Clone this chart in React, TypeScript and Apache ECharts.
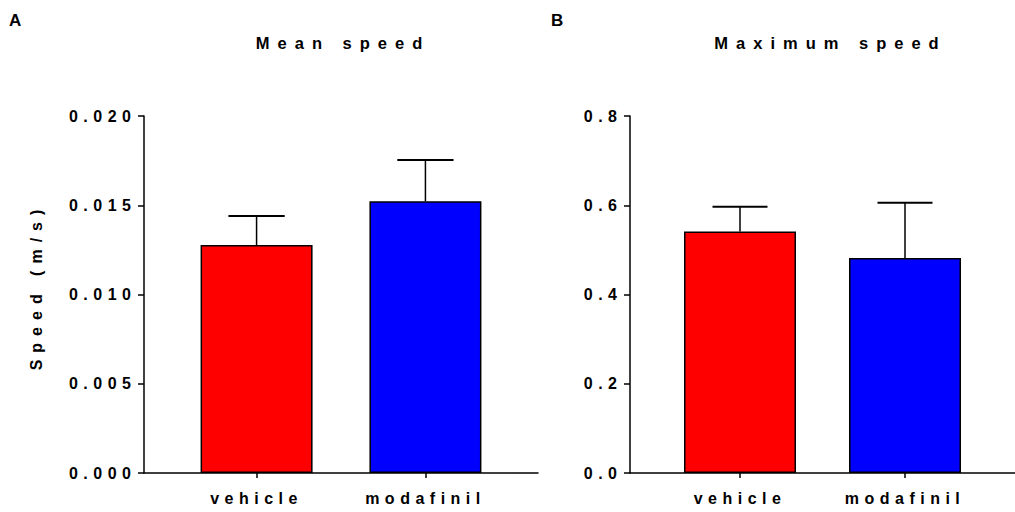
import React, { useEffect, useRef } from 'react';
import * as echarts from 'echarts';

// ---- data ----
const CATEGORIES = ['vehicle', 'modafinil'];
const SLOTS = [2, 5]; // group positions on a 0..7 x scale
const X_RANGE = [0, 7];
const BAR_COLORS = ['#ff0000', '#0000ff'];

const MEAN_SPEED = [0.01277, 0.01522];
const MEAN_SPEED_ERR = [0.00163, 0.00232];
const MEAN_TICKS = [0, 0.005, 0.01, 0.015, 0.02];

const MAX_SPEED = [0.541, 0.482];
const MAX_SPEED_ERR = [0.0556, 0.1235];
const MAX_TICKS = [0, 0.2, 0.4, 0.6, 0.8];

const PANEL_TITLES = ['Mean speed', 'Maximum speed'];
const PANEL_LETTERS = ['A', 'B'];
const Y_NAME = 'Speed (m/s)';

const FONT = '"Liberation Sans", Arial, Helvetica, sans-serif';

export default function App() {
  const ref = useRef<HTMLDivElement>(null);

  useEffect(() => {
    if (!ref.current) return;
    const chart = echarts.init(ref.current, undefined, { renderer: 'svg' });

    const axisLine = { show: true, lineStyle: { color: '#000', width: 1.5 } };
    const labelStyle = { color: '#000', fontFamily: FONT, fontWeight: 'bold' as const, fontSize: 16 };

    const grids = [
      { left: 144, top: 116, width: 394, height: 357 },
      { left: 630, top: 116, width: 396, height: 357 },
    ];

    const makeX = (gi: number) => ({
      type: 'value',
      gridIndex: gi,
      min: X_RANGE[0],
      max: X_RANGE[1],
      axisLine,
      splitLine: { show: false },
      axisTick: { show: true, customValues: SLOTS, length: 5, lineStyle: { color: '#000', width: 1.5 } },
      axisLabel: {
        ...labelStyle,
        customValues: SLOTS,
        margin: 17,
        formatter: (v: number) => {
          const i = SLOTS.indexOf(v);
          return i >= 0 ? CATEGORIES[i] : '';
        },
      },
    });

    const makeY = (gi: number, ticks: number[], digits: number) => ({
      type: 'value',
      gridIndex: gi,
      min: ticks[0],
      max: ticks[ticks.length - 1],
      interval: ticks[1] - ticks[0],
      axisLine,
      splitLine: { show: false },
      axisTick: { show: true, length: 6, lineStyle: { color: '#000', width: 1.5 } },
      axisLabel: { ...labelStyle, margin: 7.5, formatter: (v: number) => v.toFixed(digits) },
    });

    const barSeries = (gi: number, values: number[]) => ({
      type: 'bar',
      xAxisIndex: gi,
      yAxisIndex: gi,
      barWidth: 112,
      data: values.map((v, i) => ({
        value: [SLOTS[i], v],
        itemStyle: { color: BAR_COLORS[i], borderColor: '#000', borderWidth: 1.5 },
      })),
    });

    const errSeries = (gi: number, values: number[], errs: number[]) => ({
      type: 'custom',
      xAxisIndex: gi,
      yAxisIndex: gi,
      z: 5,
      encode: { x: 0, y: 1 },
      data: values.map((v, i) => [SLOTS[i], v, errs[i]]),
      renderItem: (params: any, api: any) => {
        const x = api.value(0);
        const m = api.value(1);
        const e = api.value(2);
        const base = api.coord([x, m]);
        const top = api.coord([x, m + e]);
        const half = api.size([1, 0])[0] / 2;
        return {
          type: 'group',
          children: [
            { type: 'line', shape: { x1: base[0], y1: base[1], x2: top[0], y2: top[1] }, style: { stroke: '#000', lineWidth: 1.5 } },
            { type: 'line', shape: { x1: top[0] - half, y1: top[1], x2: top[0] + half, y2: top[1] }, style: { stroke: '#000', lineWidth: 2 } },
          ],
        };
      },
    });

    const textEl = (text: string, x: number, y: number, size: number, align: string, rotation = 0) => ({
      type: 'text',
      x,
      y,
      rotation,
      style: {
        text,
        fill: '#000',
        font: `bold ${size}px ${FONT}`,
        align,
        verticalAlign: 'middle',
      },
    });

    const option: any = {
      animation: false,
      backgroundColor: '#fff',
      grid: grids,
      xAxis: [makeX(0), makeX(1)],
      yAxis: [makeY(0, MEAN_TICKS, 3), makeY(1, MAX_TICKS, 1)],
      series: [
        barSeries(0, MEAN_SPEED),
        errSeries(0, MEAN_SPEED, MEAN_SPEED_ERR),
        barSeries(1, MAX_SPEED),
        errSeries(1, MAX_SPEED, MAX_SPEED_ERR),
      ],
      graphic: [
        textEl(PANEL_LETTERS[0], 9, 20, 17, 'left'),
        textEl(PANEL_LETTERS[1], 551, 20, 17, 'left'),
        textEl(PANEL_TITLES[0], 343, 43, 16.5, 'center'),
        textEl(PANEL_TITLES[1], 830.5, 43, 16.5, 'center'),
        textEl(Y_NAME, 36, 286.5, 16, 'center', Math.PI / 2),
      ],
    };

    const spacing: Record<string, number> = {
      [PANEL_TITLES[0]]: 8,
      [PANEL_TITLES[1]]: 8,
      [Y_NAME]: 7,
    };

    const applySpacing = () => {
      const root = ref.current;
      if (!root) return;
      root.querySelectorAll('text').forEach((el) => {
        const t = (el.textContent || '').trim();
        if (t.length <= 1) return;
        const ls = spacing[t] ?? 5.5;
        el.setAttribute('letter-spacing', ls + 'px');
      });
    };

    chart.on('finished', applySpacing);
    chart.setOption(option);
    applySpacing();

    return () => {
      chart.dispose();
    };
  }, []);

  return (
    <div
      ref={ref}
      style={{ position: 'fixed', left: 0, top: 0, width: 1015, height: 512, background: '#fff' }}
    />
  );
}
